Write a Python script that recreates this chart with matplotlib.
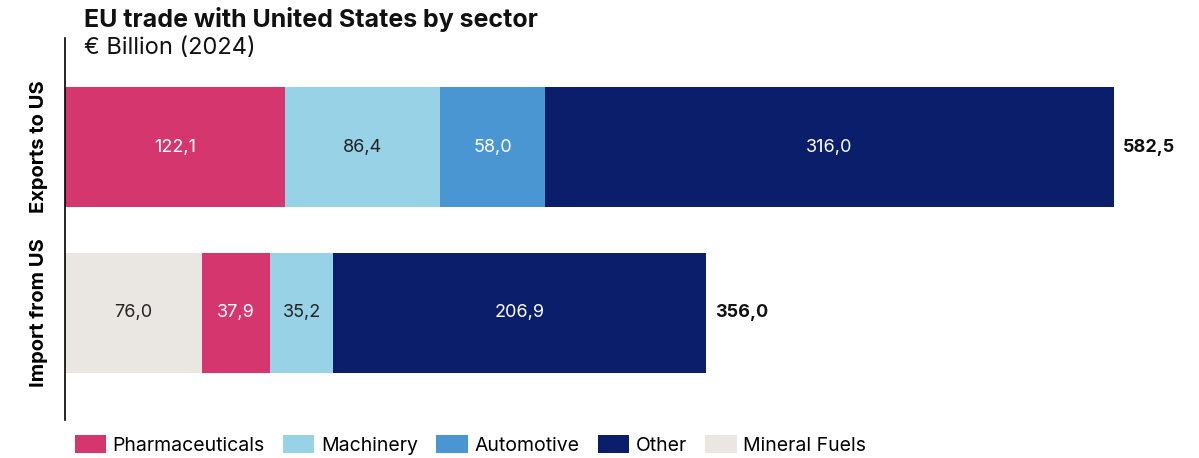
import matplotlib
matplotlib.use("Agg")
import matplotlib.pyplot as plt
from matplotlib.patches import Patch

plt.rcParams["font.family"] = ["Inter", "DejaVu Sans"]

COLORS = {
    "Pharmaceuticals": "#D6366E",
    "Machinery": "#97D2E7",
    "Automotive": "#4A96D3",
    "Other": "#0B1E6B",
    "Mineral Fuels": "#EAE6E2",
}
DARK_TEXT = {"Machinery", "Mineral Fuels"}

rows = ["Exports to US", "Import from US"]
export_sectors = ["Pharmaceuticals", "Machinery", "Automotive", "Other"]
export_values = [122.1, 86.4, 58.0, 316.0]
import_sectors = ["Mineral Fuels", "Pharmaceuticals", "Machinery", "Other"]
import_values = [76.0, 37.9, 35.2, 206.9]
totals = [582.5, 356.0]
legend_order = ["Pharmaceuticals", "Machinery", "Automotive", "Other", "Mineral Fuels"]


def fmt(v):
    return f"{v:.1f}".replace(".", ",")


fig = plt.figure(figsize=(11.99, 4.58), dpi=100)
ax = fig.add_axes([65 / 1199, 1 - 420 / 458, 1134 / 1199, 382 / 458])

for y, (sectors, values) in enumerate([(export_sectors, export_values),
                                       (import_sectors, import_values)]):
    left = 0.0
    for s, v in zip(sectors, values):
        ax.barh(y, v, left=left, height=0.723, color=COLORS[s], linewidth=0)
        ax.text(left + v / 2, y, fmt(v), ha="center", va="center", fontsize=13,
                color="#222222" if s in DARK_TEXT else "white")
        left += v
    ax.text(left + 5, y, fmt(totals[y]), ha="left", va="center",
            fontsize=13, fontweight="bold", color="#111111")

ax.set_xlim(0, 630)
ax.set_ylim(1.645, -0.657)
ax.set_yticks([0, 1])
ax.set_yticklabels(rows, rotation=90, va="center", fontsize=14.5, fontweight="bold")
ax.tick_params(axis="y", length=0, pad=12)
ax.set_xticks([])
for side in ("top", "right", "bottom"):
    ax.spines[side].set_visible(False)
ax.spines["left"].set_linewidth(1.2)

fig.text(84 / 1199, 1 - 20 / 458, "EU trade with United States by sector",
         fontsize=18, fontweight="bold", va="center", ha="left", color="#111111")
fig.text(84 / 1199, 1 - 48 / 458, "€ Billion (2024)",
         fontsize=17, va="center", ha="left", color="#111111")

handles = [Patch(facecolor=COLORS[s], edgecolor="none", label=s) for s in legend_order]
fig.legend(handles=handles, loc="center left", bbox_to_anchor=(57 / 1199, 1 - 445 / 458),
           ncol=5, frameon=False, fontsize=14, handlelength=1.6, handleheight=1.05,
           handletextpad=0.35, columnspacing=0.95)

fig.savefig("out.png", dpi=100, facecolor="white")
